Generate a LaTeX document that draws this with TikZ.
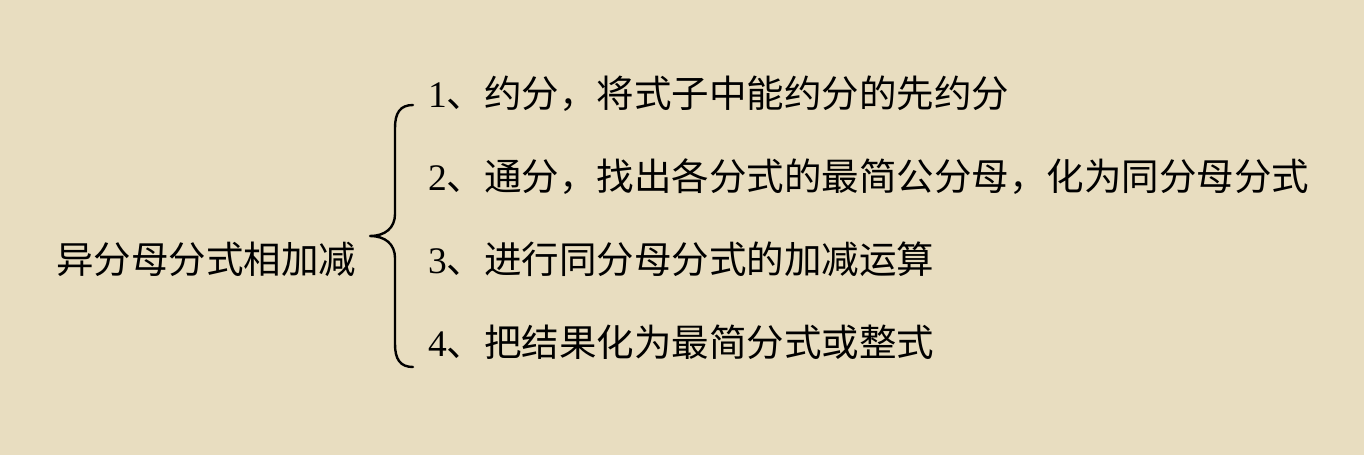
\documentclass[tikz,border=0pt]{standalone}
\usepackage{fontspec}
\newfontfamily\cjk{Noto Sans CJK SC}
\newfontfamily\digfont{Liberation Serif}
\definecolor{bgbeige}{RGB}{232,221,192}
\begin{document}
\begin{tikzpicture}[x=1pt,y=-1pt,
  lbl/.style={anchor=base west,inner sep=0pt,font=\fontsize{37.5pt}{37.5pt}\selectfont\cjk,text=black},
  bracepath/.style={draw=black,line width=2.4pt,line cap=round,line join=round}]
\fill[bgbeige] (0,0) rectangle (1364,455);
\useasboundingbox (0,0) rectangle (1364,455);
\node[lbl] (main) at (56,273) {异分母分式相加减};
\node[lbl] (s1) at (428,107) {{\digfont 1}、约分，将式子中能约分的先约分};
\node[lbl] (s2) at (428,190) {{\digfont 2}、通分，找出各分式的最简公分母，化为同分母分式};
\node[lbl] (s3) at (428,273) {{\digfont 3}、进行同分母分式的加减运算};
\node[lbl] (s4) at (428,356) {{\digfont 4}、把结果化为最简分式或整式};
\coordinate (btop) at (413,105);
\coordinate (bbot) at (413,367);
\coordinate (btip) at (370,236);
\draw[bracepath] (btop) .. controls (400,105) and (395,113) .. (395,128)
  -- (395,214) .. controls (395,228) and (385,236) .. (btip)
  .. controls (385,236) and (395,244) .. (395,258)
  -- (395,344) .. controls (395,359) and (400,367) .. (bbot);
\end{tikzpicture}
\end{document}
